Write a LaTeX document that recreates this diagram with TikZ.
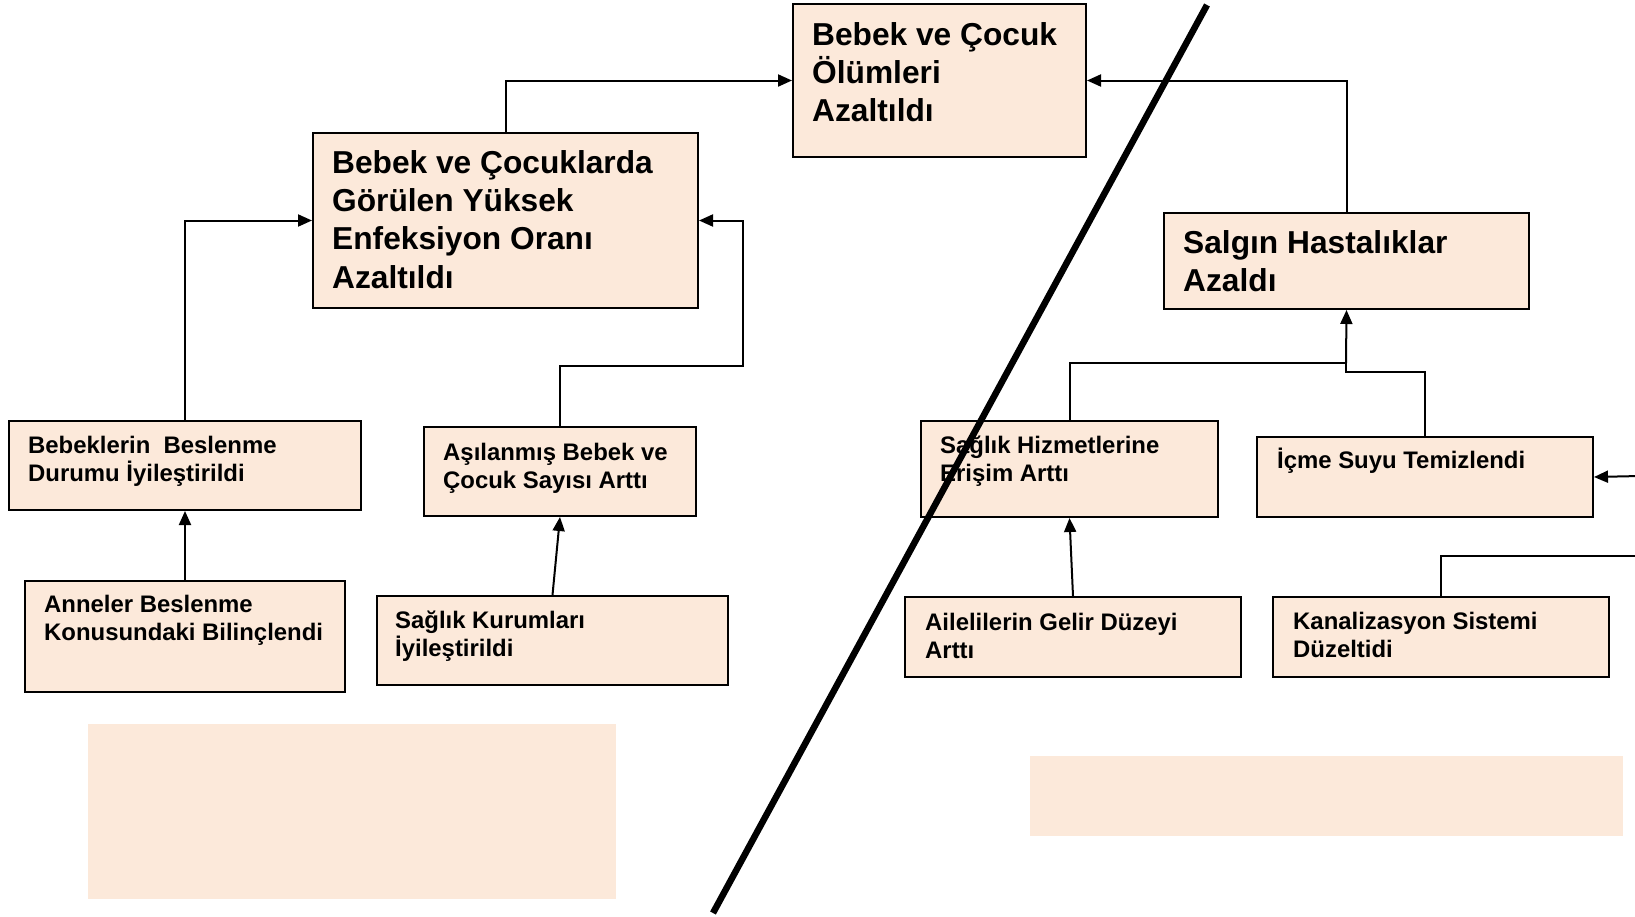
\documentclass[tikz,border=0pt]{standalone}
\usepackage{fontspec}
\setmainfont{Liberation Sans}
\usetikzlibrary{arrows.meta}
\definecolor{peach}{HTML}{FCE9DA}
\begin{document}
\begin{tikzpicture}[x=1pt,y=-1pt,
  box/.style={draw=black,line width=2pt,fill=peach,rectangle,inner sep=0pt,anchor=north west},
  pad/.style={fill=peach,draw=none,rectangle,inner sep=0pt,anchor=north west},
  bigtxt/.style={anchor=base west,inner sep=0pt,align=left,font=\bfseries\fontsize{31.7}{38.4}\selectfont},
  smalltxt/.style={anchor=base west,inner sep=0pt,align=left,font=\bfseries\fontsize{23.9}{28.6}\selectfont},
  link/.style={line width=2pt,draw=black},
  arr/.style={link,-{Triangle[length=14pt,width=12pt]}}]
\useasboundingbox (0,0) rectangle (1635,916);

% boxes: top-left corner, width, height
\node[box,minimum width=293pt,minimum height=153pt] (top) at (792,3) {};
\node[box,minimum width=385pt,minimum height=175pt] (inf) at (312,132) {};
\node[box,minimum width=365pt,minimum height=96pt] (sal) at (1163,212) {};
\node[box,minimum width=352pt,minimum height=89pt] (beb) at (8,420) {};
\node[box,minimum width=272pt,minimum height=89pt] (asi) at (423,426) {};
\node[box,minimum width=320pt,minimum height=111pt] (ann) at (24,580) {};
\node[box,minimum width=351pt,minimum height=89pt] (sk) at (376,595) {};
\node[box,minimum width=297pt,minimum height=96pt] (sh) at (920,420) {};
\node[box,minimum width=336pt,minimum height=80pt] (icme) at (1256,436) {};
\node[box,minimum width=336pt,minimum height=80pt] (ail) at (904,596) {};
\node[box,minimum width=336pt,minimum height=80pt] (kan) at (1272,596) {};

% plain filled panels
\node[pad,minimum width=528pt,minimum height=175pt] (padL) at (88,724) {};
\node[pad,minimum width=593pt,minimum height=80pt] (padR) at (1030,756) {};

% box texts (anchored at the baseline of the last line)
\node[bigtxt] (ttop) at ([shift={(20,118.8)}]top.north west) {Bebek ve Çocuk\\Ölümleri\\Azaltıldı};
\node[bigtxt] (tinf) at ([shift={(20,156.2)}]inf.north west) {Bebek ve Çocuklarda\\Görülen Yüksek\\Enfeksiyon Oranı\\Azaltıldı};
\node[bigtxt] (tsal) at ([shift={(20,79.4)}]sal.north west) {Salgın Hastalıklar\\Azaldı};
\node[smalltxt] (tbeb) at ([shift={(20,61.6)}]beb.north west) {Bebeklerin\ \ Beslenme\\Durumu İyileştirildi};
\node[smalltxt] (tasi) at ([shift={(20,62.6)}]asi.north west) {Aşılanmış Bebek ve\\Çocuk Sayısı Arttı};
\node[smalltxt] (tann) at ([shift={(20,60.6)}]ann.north west) {Anneler Beslenme\\Konusundaki Bilinçlendi};
\node[smalltxt] (tsk) at ([shift={(19,61.6)}]sk.north west) {Sağlık Kurumları\\İyileştirildi};
\node[smalltxt] (tsh) at ([shift={(20,61.6)}]sh.north west) {Sağlık Hizmetlerine\\Erişim Arttı};
\node[smalltxt] (ticme) at ([shift={(21,32)}]icme.north west) {İçme Suyu Temizlendi};
\node[smalltxt] (tail) at ([shift={(21,62.6)}]ail.north west) {Ailelilerin Gelir Düzeyi\\Arttı};
\node[smalltxt] (tkan) at ([shift={(21,61.6)}]kan.north west) {Kanalizasyon Sistemi\\Düzeltidi};

% connectors, left half
\draw[arr] (inf.north) |- (top.west);
\draw[arr] (beb.north) |- (inf.west);
\coordinate (asiBend) at (743,366);
\draw[arr] (asi.north) |- (asiBend) |- (inf.east);
\draw[arr] (ann.north) -- (beb.south);
\draw[arr] (sk.north) -- (asi.south);

% connectors, right half
\draw[arr] (sal.north) |- (top.east);
\coordinate (jn) at (1346,363);
\coordinate (jnIcme) at (1346,372);
\draw[link] (sh.north) |- (jn);
\draw[link] (icme.north) |- (jnIcme) -- (jn);
\draw[arr] (jn) -- (sal.south);
\draw[arr] (ail.north) -- (sh.south);
\coordinate (offIcme) at (1640,476);
\draw[arr] (offIcme) -- (icme.east);
\coordinate (offKan) at (1640,556);
\draw[link] (kan.north) |- (offKan);

% dividing stroke
\coordinate (d1) at (1207,5);
\coordinate (d2) at (713,913);
\draw[line width=6.5pt] (d1) -- (d2);
\end{tikzpicture}
\end{document}
